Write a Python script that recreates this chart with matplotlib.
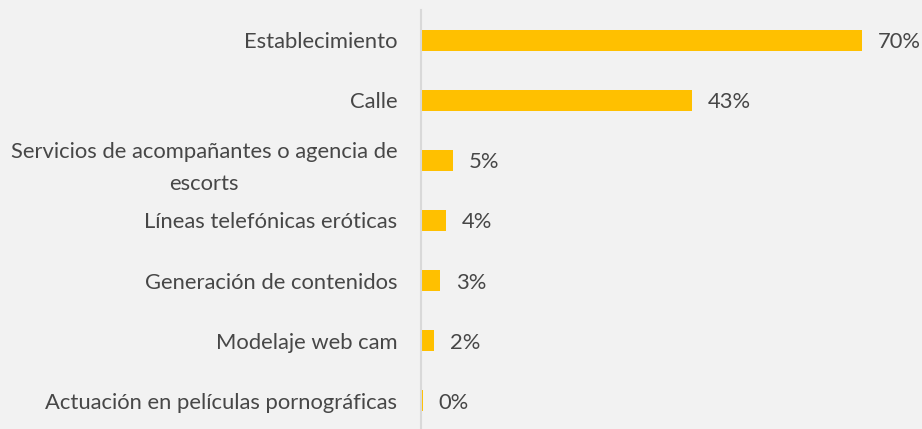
import matplotlib.pyplot as plt

categories = ["Establecimiento", "Calle",
              "Servicios de acompañantes o agencia de\nescorts",
              "Líneas telefónicas eróticas", "Generación de contenidos",
              "Modelaje web cam", "Actuación en películas pornográficas"]
values = [70, 43, 5, 4, 3, 2, 0.25]
labels = ["70%", "43%", "5%", "4%", "3%", "2%", "0%"]

plt.rcParams['font.family'] = ['Lato', 'DejaVu Sans']

fig = plt.figure(figsize=(9.22, 4.29), dpi=100, facecolor='#f2f2f2')
ax = fig.add_axes([421 / 922, 0, 1 - 421 / 922, 1 - 10 / 429])
ax.set_facecolor('#f2f2f2')

y = range(len(categories))
ax.barh(y, values, height=0.35, color='#ffc000')
for i, (v, lab) in enumerate(zip(values, labels)):
    ax.annotate(lab, (v, i), xytext=(11.5, -1.5), textcoords='offset points',
                va='center', ha='left', fontsize=15.8, color='#474747')

ax.set_yticks(list(y))
ax.set_yticklabels(categories, fontsize=15.8, color='#474747',
                   multialignment='center', linespacing=1.75)
ax.tick_params(axis='y', length=0, pad=17)
ax.set_xticks([])
ax.set_xlim(0, (922 - 421) / 6.3)
ax.set_ylim(6.47, -0.5)
for s in ['top', 'right', 'bottom']:
    ax.spines[s].set_visible(False)
ax.spines['left'].set_color('#d9d9d9')
ax.spines['left'].set_linewidth(1.5)

fig.savefig('out.png', dpi=100, facecolor=fig.get_facecolor())
